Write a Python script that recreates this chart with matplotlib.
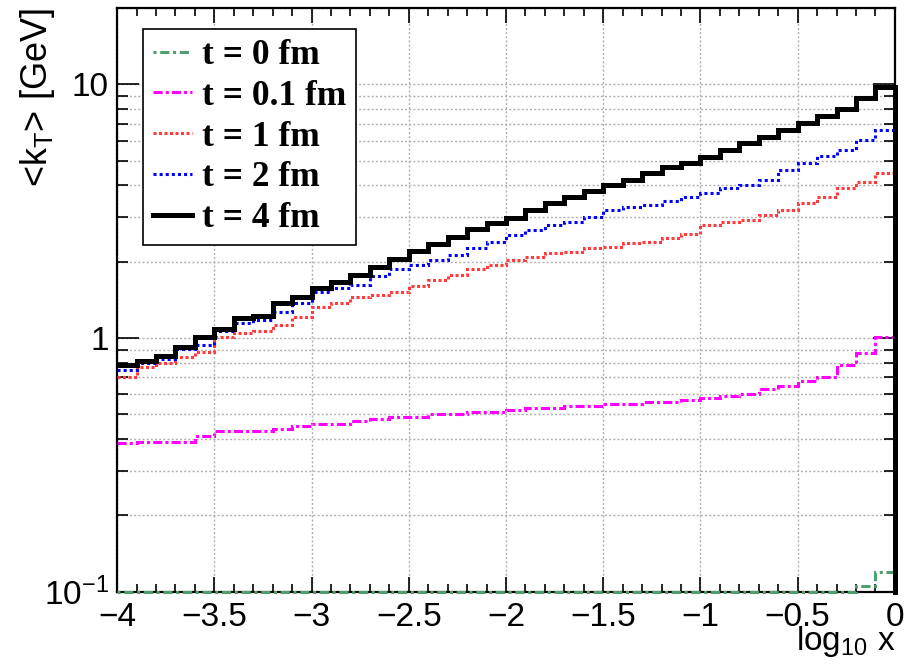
import numpy as np
import matplotlib
matplotlib.use("Agg")
import matplotlib.pyplot as plt
from matplotlib.ticker import MultipleLocator, LogLocator, FixedLocator, FixedFormatter, NullFormatter

plt.rcParams['font.family'] = ['Liberation Sans', 'DejaVu Sans']
plt.rcParams['mathtext.fontset'] = 'custom'
plt.rcParams['mathtext.rm'] = 'Liberation Sans'
plt.rcParams['mathtext.it'] = 'Liberation Sans:italic'

# 40 bins in log10 x from -4 to 0
bin_edges = np.linspace(-4, 0, 41)

kt_t0 = [0.1001] * 38 + [0.105, 0.12]

kt_t01 = [0.385, 0.39, 0.39, 0.39, 0.41, 0.43, 0.43, 0.43, 0.44, 0.45,
          0.46, 0.46, 0.47, 0.48, 0.49, 0.49, 0.50, 0.50, 0.51, 0.51,
          0.52, 0.53, 0.53, 0.54, 0.54, 0.55, 0.55, 0.56, 0.56, 0.57,
          0.58, 0.59, 0.60, 0.63, 0.65, 0.68, 0.70, 0.78, 0.87, 1.01]

kt_t1 = [0.70, 0.77, 0.80, 0.84, 0.88, 1.01, 1.05, 1.07, 1.13, 1.21,
         1.33, 1.37, 1.45, 1.48, 1.52, 1.60, 1.69, 1.77, 1.87, 1.94,
         2.03, 2.09, 2.16, 2.19, 2.27, 2.29, 2.37, 2.40, 2.48, 2.58,
         2.80, 2.88, 2.92, 3.06, 3.20, 3.41, 3.61, 3.90, 4.14, 4.48]

kt_t2 = [0.75, 0.80, 0.83, 0.91, 0.94, 1.07, 1.15, 1.18, 1.27, 1.38,
         1.52, 1.57, 1.62, 1.75, 1.87, 1.94, 2.03, 2.13, 2.27, 2.40,
         2.55, 2.67, 2.80, 2.88, 3.01, 3.20, 3.28, 3.35, 3.46, 3.60,
         3.74, 3.90, 4.02, 4.20, 4.61, 4.90, 5.20, 5.52, 6.05, 6.60]

kt_t4 = [0.78, 0.81, 0.85, 0.92, 1.01, 1.09, 1.20, 1.22, 1.38, 1.45,
         1.57, 1.67, 1.77, 1.91, 2.05, 2.21, 2.35, 2.51, 2.69, 2.84,
         2.97, 3.20, 3.41, 3.61, 3.81, 4.02, 4.20, 4.48, 4.74, 4.90,
         5.18, 5.52, 5.88, 6.23, 6.60, 7.06, 7.48, 8.00, 8.85, 9.80]

labels = ['t = 0 fm', 't = 0.1 fm', 't = 1 fm', 't = 2 fm', 't = 4 fm']

fig = plt.figure(figsize=(9.15, 6.65), dpi=100)
ax = fig.add_axes([0.128, 0.110, 0.850, 0.878])
ax.set_yscale('log')

base = 0.1


def hist(vals, **kw):
    # histogram outline, dropping to the bottom at the last edge (ROOT style)
    ax.stairs(vals, bin_edges, baseline=None, zorder=3, clip_on=False, **kw)
    kw.pop('label', None)
    ax.plot([bin_edges[-1], bin_edges[-1]], [vals[-1], base], zorder=3,
            clip_on=False, **kw)


hist(kt_t0, color='#4f9e70', lw=2.2, ls=(0, (1, 1.2, 3, 1.2)), label=labels[0])
hist(kt_t01, color='#ff00ff', lw=2.2, ls=(0, (3, 1, 1, 1)), label=labels[1])
hist(kt_t1, color='#ff3b3b', lw=2.2, ls=(0, (1, 0.8)), label=labels[2])
hist(kt_t2, color='#0000ff', lw=2.2, ls=(0, (1, 1)), label=labels[3])
hist(kt_t4, color='black', lw=3.6, ls='-', label=labels[4])

ax.set_xlim(-4, 0)
ax.set_ylim(0.1, 20)

ax.xaxis.set_major_locator(MultipleLocator(0.5))
ax.xaxis.set_minor_locator(MultipleLocator(0.1))
ax.yaxis.set_major_locator(FixedLocator([0.1, 1, 10]))
ax.yaxis.set_major_formatter(FixedFormatter([r'$10^{-1}$', '1', '10']))
ax.yaxis.set_minor_locator(LogLocator(base=10, subs=np.arange(2, 10)))
ax.yaxis.set_minor_formatter(NullFormatter())
ax.xaxis.set_major_formatter(plt.FuncFormatter(lambda v, p: ('%g' % v).replace('-', '\u2212')))

ax.tick_params(axis='both', which='both', direction='in', top=True, right=True,
               labelsize=24, width=1.2, colors='black')
ax.tick_params(axis='x', which='major', length=11, pad=7)
ax.tick_params(axis='x', which='minor', length=5.5)
ax.tick_params(axis='y', which='major', length=16, pad=6)
ax.tick_params(axis='y', which='minor', length=8)

ax.grid(True, which='major', axis='x', color='#b0b0b0', ls=(0, (1.5, 1.5)), lw=1)
ax.grid(True, which='both', axis='y', color='#b0b0b0', ls=(0, (1.5, 1.5)), lw=1)
ax.set_axisbelow(True)

for s in ax.spines.values():
    s.set_linewidth(1.6)

leg = ax.legend(loc='upper left', bbox_to_anchor=(143 / 915, 1 - 29 / 665),
                bbox_transform=fig.transFigure,
                prop={'family': 'Liberation Serif', 'weight': 'bold', 'size': 25.5},
                frameon=True, fancybox=False, edgecolor='black', framealpha=1,
                handlelength=1.1, handletextpad=0.28, labelspacing=0.22,
                borderpad=0.28, borderaxespad=0)
leg.get_frame().set_linewidth(1.2)
leg.set_zorder(5)

fig.text(38 / 915, 1 - 8 / 665, r'<k$_{\mathrm{T}}$> [GeV]', rotation=90,
         ha='center', va='top', fontsize=26)
fig.text(895 / 915, 1 - 650 / 665, r'log$_{10}$ x', ha='right', va='baseline',
         fontsize=24)

fig.savefig('out.png', dpi=100)
